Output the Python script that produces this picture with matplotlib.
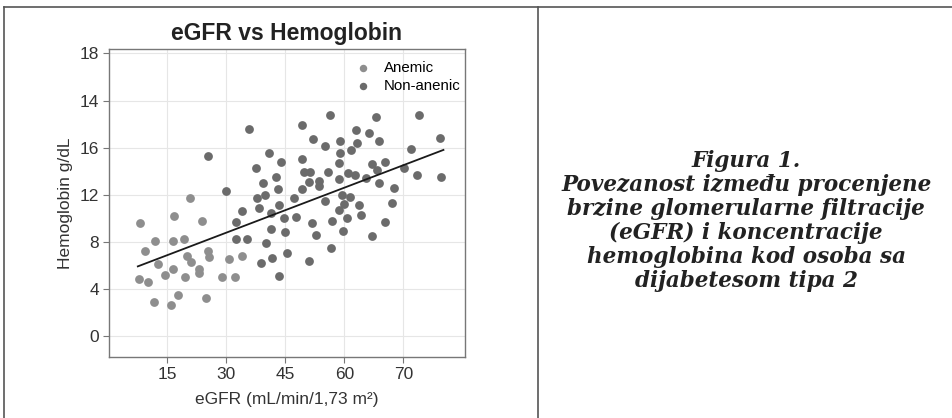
import matplotlib
matplotlib.use('Agg')
import matplotlib.pyplot as plt
from matplotlib.lines import Line2D

# scatter data (in axis units)
anemic_egfr = [8.1, 9.4, 7.9, 10.2, 11.5, 11.9, 12.6, 14.5, 15.9, 16.5, 16.4, 16.7,
               17.8, 19.3, 19.5, 20.1, 20.9, 20.7, 23.1, 23.0, 23.9, 24.9, 25.4,
               25.6, 29.0, 30.8, 32.1, 34.1]
anemic_hb = [9.6, 7.2, 4.8, 4.6, 2.9, 8.1, 6.1, 5.2, 2.6, 5.7, 8.1, 10.2,
             3.5, 8.2, 5.0, 6.8, 6.3, 11.7, 5.7, 5.3, 9.8, 3.2, 7.2,
             6.7, 5.0, 6.5, 5.0, 6.8]

nonanemic_egfr = [25.3, 29.9, 32.5, 32.5, 33.9, 35.3, 35.8, 37.6, 37.9, 38.3, 38.7,
                  39.3, 39.8, 40.0, 40.9, 41.3, 41.4, 41.7, 42.6, 43.2, 43.3, 43.3,
                  43.9, 44.6, 44.9, 45.3, 47.2, 47.7, 49.2, 49.3, 49.3, 49.8, 51.1,
                  51.3, 51.8, 52.1, 52.7, 53.5, 53.5, 55.0, 55.1, 55.9, 56.3, 56.6,
                  56.9, 58.6, 58.7, 58.9, 59.0, 58.7, 59.5, 59.7, 59.9, 60.7, 61.0,
                  61.4, 61.7, 62.6, 63.0, 63.3, 63.8, 64.3, 65.5, 66.3, 67.1, 67.1,
                  68.1, 68.4, 68.8, 68.9, 70.3, 70.4, 72.1, 72.6, 75.1, 77.0, 78.6,
                  79.1, 84.2, 84.6, 51.1]
nonanemic_hb = [15.3, 12.3, 9.7, 8.2, 10.6, 8.2, 17.6, 14.3, 11.7, 10.9, 6.2,
                13.0, 12.0, 7.9, 15.5, 10.4, 9.1, 6.6, 13.5, 12.5, 11.1, 5.1,
                14.8, 10.0, 8.8, 7.0, 11.7, 10.1, 17.9, 15.0, 12.5, 13.9, 6.4,
                13.9, 9.6, 16.7, 8.6, 13.2, 12.7, 16.1, 11.5, 13.9, 18.8, 7.5,
                9.8, 10.7, 14.7, 16.6, 15.5, 13.3, 12.0, 8.9, 11.2, 10.0, 13.8,
                11.8, 15.8, 13.7, 17.5, 16.4, 11.1, 10.3, 13.4, 17.2, 8.5, 14.6,
                18.6, 14.1, 16.6, 13.0, 9.7, 14.8, 11.3, 12.6, 14.3, 15.9, 13.7,
                18.8, 16.8, 13.5, 13.1]

# regression line end points
trend_x = [7.5, 85.2]
trend_y = [5.9, 15.8]

x_ticks = [15, 30, 45, 60, 75]
x_tick_labels = ['15', '30', '45', '60', '70']
y_ticks = [0, 4, 8, 12, 16, 20, 24]
y_tick_labels = ['0', '4', '8', '12', '16', '14', '18']

caption = ('Figura 1.\n'
           'Povezanost između procenjene\n'
           'brzine glomerularne filtracije\n'
           '(eGFR) i koncentracije\n'
           'hemoglobina kod osoba sa\n'
           'dijabetesom tipa 2')

plt.rcParams['font.family'] = ['Liberation Sans', 'DejaVu Sans']

fig = plt.figure(figsize=(9.53, 4.18), dpi=100)
ax = fig.add_axes([0.1147, 0.146, 0.3729, 0.736])

ax.scatter(anemic_egfr, anemic_hb, s=40, color='#8e8e8e', label='Anemic', zorder=3, linewidths=0)
ax.scatter(nonanemic_egfr, nonanemic_hb, s=40, color='#6b6b6b', label='Non-anenic', zorder=3, linewidths=0)
ax.plot(trend_x, trend_y, color='#1a1a1a', linewidth=1.3, zorder=4)

ax.set_xlim(0.25, 90.6)
ax.set_ylim(-1.8, 24.35)
ax.set_xticks(x_ticks)
ax.set_xticklabels(x_tick_labels)
ax.set_yticks(y_ticks)
ax.set_yticklabels(y_tick_labels)
ax.tick_params(labelsize=12.5, colors='#333333', length=4, width=0.8, color='#777777')
ax.grid(True, color='#e6e6e6', linewidth=0.8)
ax.set_axisbelow(True)
for side in ax.spines.values():
    side.set_color('#777777')
    side.set_linewidth(1.0)

ax.set_xlabel('eGFR (mL/min/1,73 m²)', fontsize=12.5, color='#333333', labelpad=7)
ax.set_ylabel('Hemoglobin g/dL', fontsize=12.5, color='#333333', labelpad=5)
ax.set_title('eGFR vs Hemoglobin', fontsize=16.5, fontweight='bold', color='#222222', pad=7)

ax.legend(loc='upper right', bbox_to_anchor=(1.0, 0.975), frameon=False, fontsize=10.8,
          handletextpad=0.4, borderaxespad=0.0, borderpad=0.25, labelspacing=0.3,
          markerscale=0.85)

# table frame around the figure
frame_kw = dict(color='#555555', linewidth=1.2, transform=fig.transFigure)
fig.add_artist(Line2D([4 / 953, 1], [1 - 7 / 418, 1 - 7 / 418], **frame_kw))
fig.add_artist(Line2D([4 / 953, 4 / 953], [0, 1 - 7 / 418], **frame_kw))
fig.add_artist(Line2D([538 / 953, 538 / 953], [0, 1 - 7 / 418], **frame_kw))

fig.text(0.783, 0.472, caption, ha='center', va='center', fontsize=15.5,
         family='DejaVu Serif', fontweight='bold', style='italic',
         color='#222222', linespacing=1.12)

fig.savefig('out.png', dpi=100)
plt.close()
